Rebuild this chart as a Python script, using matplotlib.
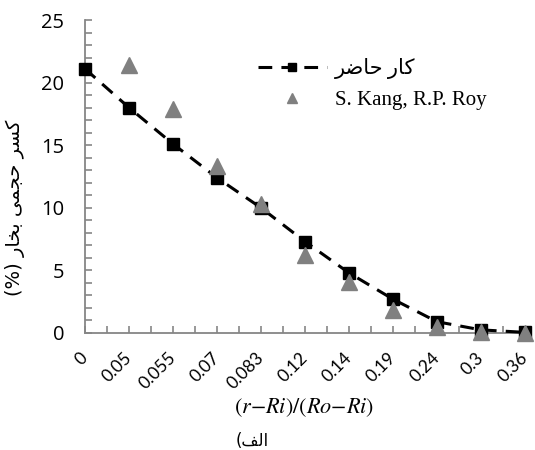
import numpy as np
import matplotlib.pyplot as plt
from matplotlib.lines import Line2D
from matplotlib.ticker import MultipleLocator

plt.rcParams['mathtext.fontset'] = 'stix'

categories = ['0', '0.05', '0.055', '0.07', '0.083', '0.12', '0.14', '0.19', '0.24', '0.3', '0.36']
present_work = [21.1, 18.0, 15.1, 12.4, 10.0, 7.3, 4.8, 2.7, 0.9, 0.25, 0.05]
kang_roy = [np.nan, 21.4, 17.9, 13.3, 10.3, 6.2, 4.1, 1.8, 0.5, 0.1, 0.0]

# persian text written pre-shaped (presentation forms, visual order),
# matplotlib does no arabic shaping / bidi on its own
lbl_present = '\ufeae\ufebf\ufe8e\ufea3 \ufead\ufe8e\ufb90'
lbl_kang = 'S. Kang, R.P. Roy'
ylab = '(%) ' + '\ufead\ufe8e\ufea8\ufe91 \ufbfd\ufee4\ufea0\ufea3 \ufeae\ufeb4\ufb90'
caption = '(\ufed2\ufedf\ufe8d'

fig = plt.figure(figsize=(5.35, 4.5), dpi=100)
ax = fig.add_axes([85/535, 1-333/450, 440/535, 313/450])

x = np.arange(len(categories))
ax.plot(x, present_work, color='black', lw=2.2, dashes=(4.5, 3),
        marker='s', ms=8, clip_on=False, zorder=3)
ax.plot(x, kang_roy, ls='none', marker='^', color='#808080', ms=11,
        clip_on=False, zorder=4)

ax.set_xlim(0, 10)
ax.set_ylim(0, 25)
for s in ['top', 'right']:
    ax.spines[s].set_visible(False)
for s in ['left', 'bottom']:
    ax.spines[s].set_color('#868686')
    ax.spines[s].set_linewidth(1.3)

ax.set_xticks(x)
ax.set_xticklabels(categories, rotation=45, ha='right', va='center',
                   rotation_mode='anchor', fontfamily='Lato', fontsize=12.5)
ax.xaxis.set_minor_locator(MultipleLocator(0.5))
ax.yaxis.set_major_locator(MultipleLocator(5))
ax.yaxis.set_minor_locator(MultipleLocator(1))
for lab in ax.get_yticklabels():
    lab.set_fontfamily('Open Sans')
ax.tick_params(which='both', direction='in', length=5, color='#868686', width=1.2)
ax.tick_params(axis='y', labelsize=14.5, pad=15)
ax.tick_params(axis='x', pad=16)

fig.text(304/535, 1-408/450, r'$(r{-}Ri)/(Ro{-}Ri)$', ha='center', va='center', fontsize=16)
fig.text(252/535, 1-441/450, caption, ha='center', va='center',
         family=['DejaVu Sans'], fontsize=12)
fig.text(15/535, 1-208/450, ylab, rotation=90, ha='center', va='center',
         family=['DejaVu Sans'], fontsize=14)

handles = [Line2D([], [], color='black', lw=2.2, dashes=(4.5, 3), marker='s', ms=6),
           Line2D([], [], ls='none', marker='^', color='#808080', ms=7)]
ax.legend(handles, [lbl_present, lbl_kang], loc='upper left',
          bbox_to_anchor=(258/535, 1-58/450), bbox_transform=fig.transFigure,
          frameon=False, handlelength=3.3, handletextpad=0.4, labelspacing=0.55,
          borderpad=0, borderaxespad=0,
          prop={'family': ['Liberation Serif', 'DejaVu Sans'], 'size': 15})

fig.savefig('out.png', dpi=100)
